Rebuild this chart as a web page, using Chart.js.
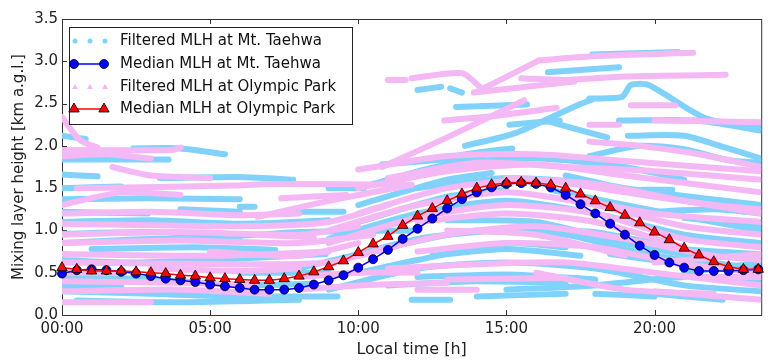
<!DOCTYPE html>
<html>
<head>
<meta charset="utf-8">
<script src="https://cdn.jsdelivr.net/npm/chart.js@4.4.0/dist/chart.umd.min.js"></script>
<style>
html, body { margin: 0; padding: 0; background: #fff; }
</style>
</head>
<body>
<canvas id="myChart" width="768" height="360"></canvas>
<script>
// Horas (cada 30 min) de las medianas
const horas = [0, 0.5, 1, 1.5, 2, 2.5, 3, 3.5, 4, 4.5, 5, 5.5, 6, 6.5, 7, 7.5, 8, 8.5, 9, 9.5,
  10, 10.5, 11, 11.5, 12, 12.5, 13, 13.5, 14, 14.5, 15, 15.5, 16, 16.5, 17, 17.5, 18, 18.5, 19, 19.5,
  20, 20.5, 21, 21.5, 22, 22.5, 23, 23.5];

// Mediana MLH Mt. Taehwa (km)
const medianaTaehwa = [0.49, 0.53, 0.54, 0.53, 0.51, 0.49, 0.46, 0.43, 0.41, 0.39, 0.36, 0.34, 0.32, 0.30, 0.30, 0.30,
  0.32, 0.36, 0.41, 0.47, 0.56, 0.66, 0.77, 0.90, 1.02, 1.14, 1.26, 1.37, 1.45, 1.51, 1.55, 1.56,
  1.55, 1.51, 1.42, 1.31, 1.20, 1.08, 0.95, 0.82, 0.71, 0.62, 0.56, 0.52, 0.52, 0.52, 0.53, 0.54];

// Mediana MLH Olympic Park (km)
const medianaOlympic = [0.56, 0.54, 0.52, 0.52, 0.52, 0.51, 0.50, 0.49, 0.47, 0.46, 0.44, 0.43, 0.42, 0.41, 0.41, 0.43,
  0.46, 0.51, 0.57, 0.64, 0.74, 0.84, 0.93, 1.06, 1.17, 1.26, 1.35, 1.43, 1.50, 1.54, 1.56, 1.57,
  1.56, 1.54, 1.50, 1.43, 1.35, 1.27, 1.18, 1.09, 0.98, 0.89, 0.79, 0.71, 0.63, 0.57, 0.54, 0.54];

// Tramos de MLH filtrado, Mt. Taehwa: [hora, km]
const filtradoTaehwa = [
  [[0, 2.12], [0.8, 2.08]],
  [[0, 1.84], [3.6, 1.84]],
  [[2.4, 1.97], [4.0, 1.97], [5.5, 1.90]],
  [[0, 1.66], [1.2, 1.64]],
  [[0, 1.50], [2, 1.52]],
  [[3.3, 1.62], [6.2, 1.63], [7.8, 1.60]],
  [[0, 1.37], [3, 1.38], [6.0, 1.37]],
  [[0, 1.22], [2.9, 1.20]],
  [[4, 1.25], [6, 1.22]],
  [[6.0, 1.28], [6.5, 1.28]],
  [[7.9, 1.22], [9.5, 1.22]],
  [[9, 1.5], [10.2, 1.5]],
  [[0, 1.1], [3, 1.12], [6, 1.08], [9, 1.12]],
  [[0, 0.96], [3.0, 0.98], [5.9, 0.94], [8.0, 0.98], [11.8, 1.0]],
  [[0, 0.85], [3, 0.9], [6, 0.88]],
  [[1.0, 0.78], [4.5, 0.80], [7.2, 0.77]],
  [[0, 0.65], [2.5, 0.62], [5.5, 0.66], [8.9, 0.72]],
  [[6, 0.5], [9, 0.5]],
  [[0, 0.45], [3, 0.42], [6, 0.35], [8.5, 0.37]],
  [[10, 0.5], [12, 0.65], [15, 0.85], [17, 0.8]],
  [[18.5, 0.72], [21, 0.6], [23.6, 0.5]],
  [[0, 0.35], [2, 0.33]],
  [[0, 0.28], [3, 0.25], [6, 0.22], [9.3, 0.22]],
  [[0.5, 0.17], [4, 0.15], [8, 0.18]],
  [[9, 0.30], [12, 0.55], [15, 0.62], [18, 0.55], [21, 0.35], [23.6, 0.28]],
  [[11, 0.35], [14, 0.4], [17, 0.38]],
  [[14, 0.22], [17, 0.25]],
  [[18, 0.25], [20, 0.22]],
  [[11.8, 0.18], [13.1, 0.18]],
  [[9, 0.62], [12, 0.9], [14.5, 1.0]],
  [[15.5, 1.0], [18, 0.98], [21, 0.78], [23.6, 0.72]],
  [[9, 0.9], [12, 1.2], [15, 1.35], [18, 1.2], [21, 0.95], [23.6, 0.85]],
  [[10, 1.1], [13, 1.4], [15, 1.48]],
  [[16.5, 1.48], [19, 1.3], [22, 1.1], [23.6, 1.0]],
  [[10, 1.3], [13, 1.6], [14.5, 1.68]],
  [[17, 1.65], [19, 1.5], [23.6, 1.3]],
  [[12, 1.5], [15, 1.62], [18, 1.55], [20, 1.4]],
  [[8, 0.55], [11, 0.8], [14, 1.0], [17, 0.95], [20, 0.7], [23.6, 0.55]],
  [[10.5, 1.55], [13, 1.78], [16, 1.85], [19, 1.75], [21, 1.6]],
  [[12, 0.45], [15, 0.48], [18, 0.42]],
  [[13, 1.12], [16, 1.1], [19, 0.85], [22, 0.65]],
  [[19, 1.2], [22, 1.25], [23.6, 1.2]],
  [[19.6, 1.48], [20.6, 1.48]],
  [[20, 0.25], [22.3, 0.18]],
  [[21, 0.5], [23.6, 0.62]],
  [[21, 1.15], [23.6, 1.05]],
  [[12.5, 0.7], [15, 0.78], [17.5, 0.7]],
  [[15, 0.3], [18, 0.35], [21, 0.45], [23.6, 0.4]],
  [[12.0, 2.66], [12.8, 2.70]],
  [[13.1, 2.68], [13.5, 2.63]],
  [[16.4, 2.87], [18.8, 2.93]],
  [[17.9, 3.08], [20.8, 3.11]],
  [[13.3, 2.46], [15.7, 2.49]],
  [[17.8, 2.56], [18.9, 2.58], [19.2, 2.72], [19.8, 2.72], [21.7, 2.33], [23.6, 2.21]],
  [[18.8, 2.30], [21.4, 2.30], [23.6, 2.18]],
  [[19.1, 2.12], [21.0, 2.12], [22.2, 2.00], [23.6, 1.85]],
  [[17.8, 1.88], [19.5, 2.0], [21, 1.96], [22.5, 1.83], [23.6, 1.80]],
  [[13.6, 2.0], [15.3, 2.15], [17.4, 2.48], [17.9, 2.55]],
  [[12.9, 1.86], [14.0, 1.92], [15.2, 1.97]],
  [[10.8, 1.78], [13.3, 1.85], [14.2, 1.87]],
  [[16.5, 2.28], [18.4, 2.1]],
  [[15.1, 2.25], [16.8, 2.3]]
];

// Tramos de MLH filtrado, Olympic Park: [hora, km]
const filtradoOlympic = [
  [[14.0, 2.64], [16.1, 3.01]],
  [[16.1, 3.01], [17.9, 3.06], [21.3, 3.10]],
  [[11.0, 2.78], [11.6, 2.78]],
  [[11.8, 2.80], [13.5, 2.86], [14.1, 2.70]],
  [[15.5, 2.80], [17, 2.78], [19, 2.82], [22.4, 2.84]],
  [[13.9, 2.63], [17.3, 2.76]],
  [[10.8, 1.75], [13, 2.1], [15.6, 2.54]],
  [[12.9, 2.3], [14.5, 2.35], [16.7, 2.45]],
  [[19.2, 2.48], [20.7, 2.48]],
  [[17.8, 2.25], [18.8, 2.25]],
  [[20, 2.3], [23.6, 2.28]],
  [[17.8, 2.05], [19.5, 2.0], [21.5, 1.9], [23.6, 1.75]],
  [[0, 2.34], [0.6, 2.07], [1.2, 1.98]],
  [[0, 1.95], [3.7, 1.95], [4.0, 1.98]],
  [[0, 1.88], [1.5, 1.9], [3.0, 1.85]],
  [[1.7, 1.75], [3.0, 1.65], [5, 1.62]],
  [[0.5, 1.5], [5.9, 1.53], [7, 1.55], [11.8, 1.54]],
  [[6.6, 1.16], [9, 1.35], [11.8, 1.54]],
  [[7.4, 1.38], [9.6, 1.42]],
  [[0, 1.3], [2, 1.45], [4, 1.42]],
  [[0, 1.2], [3, 1.22], [6, 1.18], [8, 1.2]],
  [[0, 1.08], [6, 1.05], [9, 1.1], [11, 1.3]],
  [[0, 0.95], [4, 0.98], [8, 0.95], [10, 1.05]],
  [[6.5, 0.95], [8.5, 0.92]],
  [[0, 0.85], [4, 0.88], [8, 0.85], [10.5, 0.95]],
  [[0, 0.72], [5, 0.7], [9, 0.75]],
  [[5, 0.75], [8, 0.7], [10, 0.85]],
  [[0, 0.62], [6, 0.6], [9, 0.62], [11, 0.8]],
  [[3, 0.55], [6, 0.52], [8, 0.55]],
  [[0, 0.5], [2, 0.5]],
  [[0, 0.40], [4, 0.38], [6.5, 0.36]],
  [[0, 0.28], [4, 0.3], [7, 0.25]],
  [[0, 0.15], [3, 0.15]],
  [[8, 0.45], [10, 0.5], [12, 0.5]],
  [[8, 0.3], [10, 0.35], [13, 0.38]],
  [[12, 0.3], [14, 0.3]],
  [[9, 0.85], [12, 1.15], [15, 1.3], [18, 1.2], [21, 0.9], [23.6, 0.8]],
  [[9, 1.0], [12, 1.3], [15, 1.45], [18, 1.3], [21, 1.05], [23.6, 0.95]],
  [[10, 1.2], [13, 1.5], [16, 1.6], [19, 1.45], [22, 1.3], [23.6, 1.25]],
  [[10, 1.5], [13, 1.7], [16, 1.78], [19, 1.65], [23.6, 1.45]],
  [[11, 1.62], [14, 1.8], [17, 1.75], [20, 1.7], [23.6, 1.6]],
  [[10, 1.72], [13, 1.88], [16, 1.9], [19, 1.82], [23.6, 1.7]],
  [[10, 0.7], [13, 0.95], [16, 1.05], [19, 0.9], [22, 0.7], [23.6, 0.65]],
  [[12, 0.75], [15, 0.85], [18, 0.8], [21, 0.6], [23.6, 0.5]],
  [[13, 1.0], [16, 0.95], [19, 0.7]],
  [[11, 0.55], [14, 0.6], [17, 0.62], [20, 0.5], [23.6, 0.35]],
  [[12, 1.1], [15, 1.2], [18, 1.1], [21, 0.8]],
  [[15, 1.62], [18, 1.55], [21, 1.35], [23.6, 1.2]],
  [[17, 1.4], [20, 1.2], [23.6, 1.1]],
  [[16, 0.5], [19, 0.3], [22, 0.25]],
  [[13, 0.42], [17, 0.44]],
  [[20, 0.28], [23.6, 0.18]],
  [[21, 0.45], [23.6, 0.45]],
  [[20, 0.62], [23.6, 0.72]]
];

// Etiquetas de los ejes
const ticksHora = [0, 5, 10, 15, 20];
const ticksAltura = [0, 0.5, 1.0, 1.5, 2.0, 2.5, 3.0, 3.5];
const nombres = ['Filtered MLH at Mt. Taehwa', 'Median MLH at Mt. Taehwa',
  'Filtered MLH at Olympic Park', 'Median MLH at Olympic Park'];

const celeste = 'rgb(128,210,250)';
const rosa = 'rgb(244,184,244)';

Chart.defaults.font.family = '"DejaVu Sans", sans-serif';
Chart.defaults.color = '#222';

function tramos(lista, color, orden) {
  return lista.map(t => ({
    data: t.map(p => ({ x: p[0], y: p[1] })),
    borderColor: color,
    borderWidth: 6,
    borderCapStyle: 'round',
    borderJoinStyle: 'round',
    pointRadius: 0,
    tension: 0.25,
    fill: false,
    clip: 0,
    order: orden
  }));
}

// Marco y marcas hacia dentro, estilo matplotlib
const marco = {
  id: 'marco',
  beforeDatasetsDraw(chart) {
    const ctx = chart.ctx, a = chart.chartArea;
    const sx = chart.scales.x, sy = chart.scales.y;
    ctx.save();
    ctx.strokeStyle = '#333';
    ctx.lineWidth = 1;
    ctx.strokeRect(a.left + 0.5, a.top + 0.5, a.right - a.left, a.bottom - a.top);
    ctx.beginPath();
    ticksHora.forEach(h => {
      const px = Math.round(sx.getPixelForValue(h)) + 0.5;
      ctx.moveTo(px, a.bottom); ctx.lineTo(px, a.bottom - 5);
      ctx.moveTo(px, a.top); ctx.lineTo(px, a.top + 5);
    });
    ticksAltura.forEach(v => {
      const py = Math.round(sy.getPixelForValue(v)) + 0.5;
      ctx.moveTo(a.left, py); ctx.lineTo(a.left + 5, py);
    });
    ctx.stroke();
    ctx.restore();
  }
};

// Leyenda dibujada a mano
const leyenda = {
  id: 'leyenda',
  afterDatasetsDraw(chart) {
    const ctx = chart.ctx;
    ctx.save();
    ctx.fillStyle = '#fff';
    ctx.fillRect(69.5, 27.5, 283, 97);
    ctx.strokeStyle = '#222';
    ctx.lineWidth = 1;
    ctx.strokeRect(69.5, 27.5, 283, 97);
    const filas = [41, 64, 87, 109];
    // filtrado Taehwa: puntos
    ctx.fillStyle = celeste;
    [75, 90, 105].forEach(x => { ctx.beginPath(); ctx.arc(x, filas[0], 2.5, 0, Math.PI * 2); ctx.fill(); });
    // mediana Taehwa
    ctx.strokeStyle = '#0000ff'; ctx.lineWidth = 1.5;
    ctx.beginPath(); ctx.moveTo(74, filas[1]); ctx.lineTo(104, filas[1]); ctx.stroke();
    ctx.fillStyle = '#0000ff'; ctx.strokeStyle = '#000'; ctx.lineWidth = 0.8;
    [74, 104].forEach(x => {
      Chart.helpers.drawPoint(ctx, { pointStyle: 'circle', radius: 4.5, borderWidth: 0.8 }, x, filas[1]);
    });
    // filtrado Olympic: triangulos
    ctx.fillStyle = rosa;
    [75, 90, 105].forEach(x => {
      ctx.beginPath(); ctx.moveTo(x, filas[2] - 3); ctx.lineTo(x + 3, filas[2] + 2); ctx.lineTo(x - 3, filas[2] + 2); ctx.closePath(); ctx.fill();
    });
    // mediana Olympic
    ctx.strokeStyle = '#ff0000'; ctx.lineWidth = 1.5;
    ctx.beginPath(); ctx.moveTo(74, filas[3]); ctx.lineTo(104, filas[3]); ctx.stroke();
    ctx.fillStyle = '#ff0000'; ctx.strokeStyle = '#000'; ctx.lineWidth = 0.8;
    [74, 104].forEach(x => {
      Chart.helpers.drawPoint(ctx, { pointStyle: 'triangle', radius: 6, borderWidth: 0.8 }, x, filas[3]);
    });
    // textos
    ctx.fillStyle = '#111';
    ctx.font = '15px "DejaVu Sans"';
    ctx.textBaseline = 'middle';
    nombres.forEach((n, i) => ctx.fillText(n, 120, filas[i]));
    ctx.restore();
  }
};

const ctx = document.getElementById('myChart').getContext('2d');
const chart = new Chart(ctx, {
  type: 'line',
  data: {
    datasets: [
      ...tramos(filtradoTaehwa, celeste, 5),
      ...tramos(filtradoOlympic, rosa, 4),
      {
        label: nombres[1],
        data: horas.map((h, i) => ({ x: h, y: medianaTaehwa[i] })),
        borderColor: '#0000ff',
        borderWidth: 1.5,
        pointStyle: 'circle',
        pointRadius: 4.5,
        pointBackgroundColor: '#0000ff',
        pointBorderColor: '#000',
        pointBorderWidth: 0.8,
        tension: 0,
        clip: false,
        order: 2
      },
      {
        label: nombres[3],
        data: horas.map((h, i) => ({ x: h, y: medianaOlympic[i] })),
        borderColor: '#ff0000',
        borderWidth: 1.5,
        pointStyle: 'triangle',
        pointRadius: 6,
        pointBackgroundColor: '#ff0000',
        pointBorderColor: '#000',
        pointBorderWidth: 0.8,
        tension: 0,
        clip: false,
        order: 1
      }
    ]
  },
  options: {
    responsive: false,
    animation: false,
    events: [],
    layout: { padding: { top: 19, right: 0, left: 0, bottom: 0 } },
    plugins: { legend: { display: false }, tooltip: { enabled: false } },
    scales: {
      x: {
        type: 'linear',
        min: 0,
        max: 23.6,
        border: { display: false },
        grid: { display: false, drawTicks: false },
        afterBuildTicks: s => { s.ticks = ticksHora.map(v => ({ value: v })); },
        afterFit: s => { s.height = 45; },
        ticks: {
          font: { size: 15 },
          color: '#222',
          padding: 5,
          maxRotation: 0,
          autoSkip: false,
          callback: v => String(v).padStart(2, '0') + ':00'
        },
        title: { display: true, text: 'Local time [h]', font: { size: 16 }, color: '#222', padding: { top: 0, bottom: 1 } }
      },
      y: {
        min: 0,
        max: 3.5,
        border: { display: false },
        grid: { display: false, drawTicks: false },
        afterBuildTicks: s => { s.ticks = ticksAltura.map(v => ({ value: v })); },
        afterFit: s => { s.width = 62; },
        ticks: {
          font: { size: 15 },
          color: '#222',
          padding: 4,
          callback: v => v.toFixed(1)
        },
        title: { display: true, text: 'Mixing layer height [km a.g.l.]', font: { size: 15 }, color: '#222', padding: { top: 10, bottom: 0 } }
      }
    }
  },
  plugins: [marco, leyenda]
});
</script>
</body>
</html>
